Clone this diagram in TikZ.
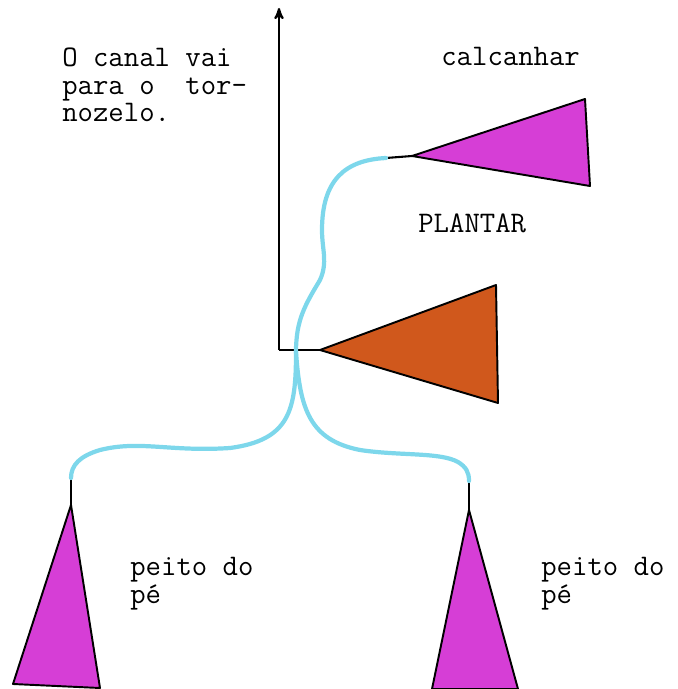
\documentclass[tikz,border=0pt]{standalone}
\usepackage{tikz}
\usetikzlibrary{arrows,positioning}
\definecolor{canal}{RGB}{125,215,235}
\definecolor{magenta}{RGB}{214,62,214}
\definecolor{laranja}{RGB}{208,88,28}
\tikzset{
  txt/.style={font=\ttfamily\fontsize{17}{15.6}\selectfont,align=left,inner sep=0pt},
  haste/.style={line width=1.2pt,black},
  cunha/.style={draw=black,line width=1.1pt,line join=round},
  tubo/.style={canal,line width=2.4pt,line cap=round}
}
\begin{document}
\begin{tikzpicture}[x=0.02cm,y=-0.02cm]
\useasboundingbox (0,0) rectangle (677,689);
% Axis and stem of the middle wedge
\coordinate (base) at (279,350);
\coordinate (topo) at (279,8);
\coordinate (pm) at (320,350);
\draw[haste,->,>=stealth'] (base) -- (topo);
\draw[haste] (base) -- (pm);
\draw[cunha,fill=laranja] (pm) -- (496,285) -- (498,403) -- cycle;
% Heel wedge
\coordinate (hc) at (386,158);
\coordinate (pc) at (412,156);
\draw[haste] (hc) -- (pc);
\draw[cunha,fill=magenta] (pc) -- (585,99) -- (590,186) -- cycle;
% Front wedges
\coordinate (he) at (71,478);
\coordinate (pe) at (71,505);
\coordinate (hd) at (469,481);
\coordinate (pd) at (469,510);
\draw[haste] (he) -- (pe);
\draw[haste] (hd) -- (pd);
\draw[cunha,fill=magenta] (pe) -- (100,688) -- (13,684) -- cycle;
\draw[cunha,fill=magenta] (pd) -- (518,689) -- (432,689) -- cycle;
% Channel
\coordinate (jn) at (296,352);
\draw[tubo] (hc) .. controls (345,160) and (322,180) .. (322,230)
  .. controls (322,250) and (328,262) .. (320,280)
  .. controls (305,305) and (296,320) .. (jn);
\draw[tubo] (jn) .. controls (296,410) and (290,440) .. (230,448)
  .. controls (170,452) and (140,440) .. (100,450)
  .. controls (80,456) and (71,465) .. (he);
\draw[tubo] (jn) .. controls (300,410) and (310,440) .. (360,450)
  .. controls (400,456) and (440,452) .. (458,462)
  .. controls (466,467) and (469,472) .. (hd);
% Labels
\node[txt,anchor=north west] (nota) at (62,48) {O canal vai\\para o\ \ tor-\\nozelo.};
\node[txt,anchor=north west] (calc) at (441,47) {calcanhar};
\node[txt,anchor=north west] (plan) at (418,213) {PLANTAR};
\node[txt,anchor=north west] (pe1) at (130,557) {peito do\\p\'e};
\node[txt,anchor=north west] (pe2) at (541,557) {peito do\\p\'e};
\end{tikzpicture}
\end{document}
